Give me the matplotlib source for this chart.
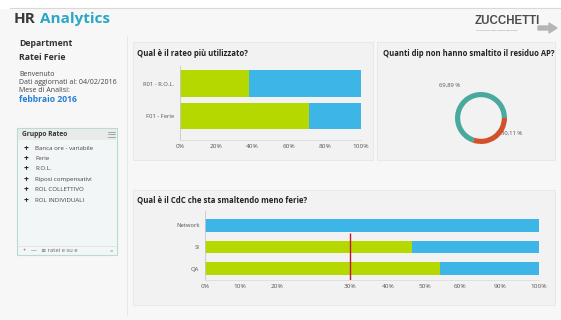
import matplotlib.pyplot as plt
from matplotlib.patches import Rectangle, Polygon

# data
rateo_labels = ['F01 - Ferie', 'R01 - R.O.L.']
rateo_used = [71, 38]
rateo_ticks = [0, 20, 40, 60, 80, 100]

donut_labels = ['69,89 %', '30,11 %']
donut_values = [69.89, 30.11]

cdc_labels = ['QA', 'SI', 'Network']
cdc_share = [70.4, 62, 0]
cdc_threshold = 43.4
cdc_tick_pos = [0, 10.5, 21.6, 43.4, 54.8, 65.9, 76.3, 88.3, 100]
cdc_tick_labels = ['0%', '10%', '20%', '30%', '40%', '50%', '60%', '90%', '100%']

gruppo_items = ['Banca ore - variabile', 'Ferie', 'R.O.L.', 'Riposi compensativi',
                'ROL COLLETTIVO', 'ROL INDIVIDUALI']

GREEN = '#b4d800'
BLUE = '#3db5e6'
TEAL = '#4aa99d'
RED = '#d2512c'
W, H = 561, 320

plt.rcParams['font.family'] = ['Open Sans', 'DejaVu Sans']

fig = plt.figure(figsize=(W / 100, H / 100), dpi=100, facecolor='#f7f7f7')

# background layer in pixel coordinates
bg = fig.add_axes([0, 0, 1, 1], zorder=0)
bg.set_xlim(0, W)
bg.set_ylim(H, 0)
bg.axis('off')

bg.add_patch(Rectangle((0, 0), W, 8, color='white'))
bg.plot([10, W], [8, 8], color='#d8d8d8', lw=0.8)
bg.add_patch(Rectangle((133, 42), 240, 118, facecolor='#f2f2f2', edgecolor='#e6e6e6', lw=0.6))
bg.add_patch(Rectangle((377, 42), 178, 118, facecolor='#f2f2f2', edgecolor='#e6e6e6', lw=0.6))
bg.add_patch(Rectangle((133, 190), 422, 115, facecolor='#f2f2f2', edgecolor='#e6e6e6', lw=0.6))
bg.plot([127, 127], [36, 315], color='#e4e4e4', lw=0.6)

# header
bg.text(14, 19, 'HR', fontsize=11, fontweight='bold', color='#3a3a3a', va='center')
bg.text(40, 19, 'Analytics', fontsize=11, fontweight='bold', color='#2ba6c4', va='center')

# logo
bg.text(475, 21, 'ZUCCHETTI', fontsize=8.3, fontweight='bold', color='#4d4d4d',
        va='center', family=['Liberation Sans', 'DejaVu Sans'])
bg.text(476, 30, 'LE SOLUZIONI PER L\'ORGANIZZAZIONE', fontsize=1.6, color='#777777', va='center')
bg.add_patch(Polygon([[538, 26], [549, 26], [549, 23], [557, 28], [549, 33], [549, 30], [538, 30]],
                     color='#b5b5b5'))

# left column
bg.text(19, 44, 'Department', fontsize=6.3, fontweight='bold', color='#333333', va='center')
bg.text(19, 58, 'Ratei Ferie', fontsize=6.3, fontweight='bold', color='#333333', va='center')
bg.text(19, 74, 'Benvenuto', fontsize=5, color='#444444', va='center')
bg.text(19, 82, 'Dati aggiornati al: 04/02/2016', fontsize=5, color='#444444', va='center')
bg.text(19, 90, 'Mese di Analisi:', fontsize=5, color='#444444', va='center')
bg.text(19, 100, 'febbraio 2016', fontsize=6.2, fontweight='bold', color='#2a7fd4', va='center')

bg.add_patch(Rectangle((17, 128), 100, 127, facecolor='#f3f6f6', edgecolor='#b9dbd6', lw=0.8))
bg.add_patch(Rectangle((18, 129), 98, 11, facecolor='#e9ebeb', edgecolor='none'))
bg.text(22, 134, 'Gruppo Rateo', fontsize=4.8, fontweight='bold', color='#333333', va='center')
for k in range(3):
    bg.plot([108, 115], [131.5 + k * 2.5, 131.5 + k * 2.5], color='#888888', lw=0.5)
for i, item in enumerate(gruppo_items):
    y = 148 + i * 10.4
    bg.text(26, y, '+', fontsize=6, fontweight='bold', color='#222222', va='center', ha='center')
    bg.text(35, y, item, fontsize=4.4, color='#444444', va='center')
bg.plot([18, 116], [246, 246], color='#dddddd', lw=0.5)
bg.text(23, 251, '+   —   ≡ ratei e su e', fontsize=4.2, color='#666666', va='center')
bg.text(110, 251, '×', fontsize=4.2, color='#888888', va='center')

# chart titles
bg.text(137, 53, 'Qual è il rateo più utilizzato?', fontsize=5.6, fontweight='bold',
        color='#222222', va='center')
bg.text(383, 53, 'Quanti dip non hanno smaltito il residuo AP?', fontsize=5.5,
        fontweight='bold', color='#222222', va='center')
bg.text(137, 200, 'Qual è il CdC che sta smaltendo meno ferie?', fontsize=5.6,
        fontweight='bold', color='#222222', va='center')


def axes_px(left, top, right, bottom):
    ax = fig.add_axes([left / W, 1 - bottom / H, (right - left) / W, (bottom - top) / H], zorder=2)
    ax.set_facecolor('none')
    return ax


def style_bar_axes(ax):
    for s in ['top', 'right']:
        ax.spines[s].set_visible(False)
    ax.spines['left'].set_color('#c8c8c8')
    ax.spines['bottom'].set_color('#dcdcdc')
    ax.spines['left'].set_linewidth(0.6)
    ax.spines['bottom'].set_linewidth(0.6)
    ax.tick_params(length=0, labelsize=4.6, labelcolor='#555555', pad=3)
    ax.tick_params(axis='y', labelsize=4.2, pad=4)


# top bar chart
ax1 = axes_px(180, 66, 361, 140)
pos1 = range(len(rateo_labels))
ax1.barh(pos1, rateo_used, height=0.83, color=GREEN)
ax1.barh(pos1, [100 - v for v in rateo_used], left=rateo_used, height=0.83, color=BLUE)
ax1.set_xlim(0, 100)
ax1.set_ylim(-0.74, 1.54)
ax1.set_xticks(rateo_ticks)
ax1.set_xticklabels([f'{t}%' for t in rateo_ticks])
ax1.set_yticks(list(pos1))
ax1.set_yticklabels(rateo_labels)
style_bar_axes(ax1)

# donut
ax2 = axes_px(452.4, 89.4, 509.6, 146.6)
ax2.pie(donut_values, colors=[TEAL, RED], startangle=0, counterclock=True,
        wedgeprops=dict(width=0.2, edgecolor='none'))
ax2.set_xlim(-1.1, 1.1)
ax2.set_ylim(-1.1, 1.1)
bg.text(450, 85, donut_labels[0], fontsize=4.2, color='#555555', ha='center', va='center')
bg.text(512, 133, donut_labels[1], fontsize=4.2, color='#555555', ha='center', va='center')

# bottom bar chart
ax3 = axes_px(205, 211, 539, 280)
pos3 = range(len(cdc_labels))
ax3.barh(pos3, cdc_share, height=0.6, color=GREEN)
ax3.barh(pos3, [100 - v for v in cdc_share], left=cdc_share, height=0.6, color=BLUE)
ax3.vlines(cdc_threshold, -0.53, 2 - 0.33, color='#c4122f', lw=1.0, zorder=3)
ax3.set_xlim(0, 100)
ax3.set_ylim(-0.53, 2.67)
ax3.set_xticks(cdc_tick_pos)
ax3.set_xticklabels(cdc_tick_labels)
ax3.set_yticks(list(pos3))
ax3.set_yticklabels(cdc_labels)
style_bar_axes(ax3)

fig.savefig('out.png', dpi=100, facecolor=fig.get_facecolor())
